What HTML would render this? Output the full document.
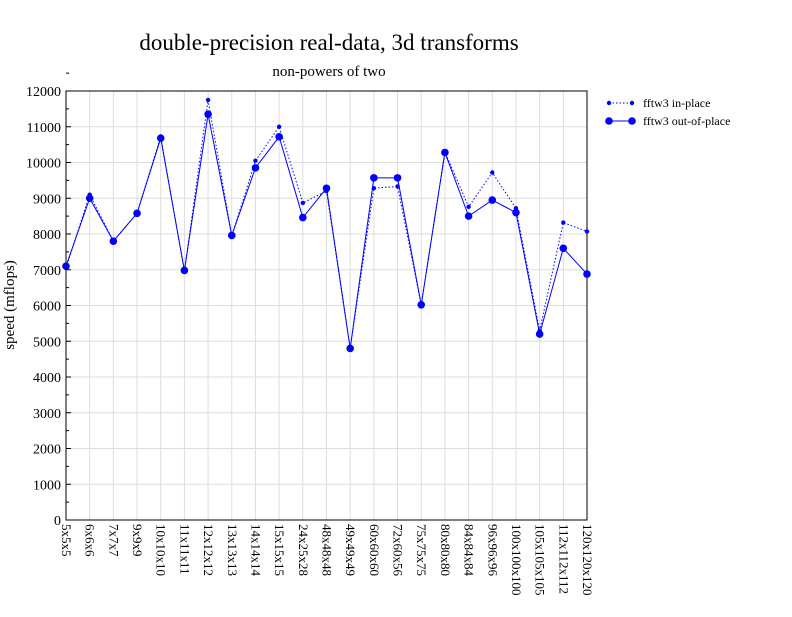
<!DOCTYPE html>
<html><head><meta charset="utf-8"><style>
body{margin:0;background:#fff;}
svg text{font-family:"Liberation Serif",serif;fill:#000;}
</style></head><body>
<svg id="c" width="792" height="612" xmlns="http://www.w3.org/2000/svg">
<text x="329" y="50" font-size="23" text-anchor="middle">double-precision real-data, 3d transforms</text>
<text x="329" y="76" font-size="15" text-anchor="middle">non-powers of two</text>
<text transform="translate(14,305) rotate(-90)" font-size="15" text-anchor="middle">speed (mflops)</text>
<g id="grid"></g><g id="axes"></g><g id="series"></g>
<g>
<line x1="609" y1="103" x2="632" y2="103" stroke="#0000ff" stroke-dasharray="1.5,2"/>
<circle cx="609" cy="103" r="2.2" fill="#0000ff"/><circle cx="632" cy="103" r="2.2" fill="#0000ff"/>
<text x="643" y="107" font-size="12">fftw3 in-place</text>
<line x1="609" y1="121" x2="632" y2="121" stroke="#0000ff"/>
<circle cx="609" cy="121" r="3.8" fill="#0000ff"/><circle cx="632" cy="121" r="3.8" fill="#0000ff"/>
<text x="643" y="125" font-size="12">fftw3 out-of-place</text>
</g>
</svg>
<script>
const categories=["5x5x5","6x6x6","7x7x7","9x9x9","10x10x10","11x11x11","12x12x12","13x13x13","14x14x14","15x15x15","24x25x28","48x48x48","49x49x49","60x60x60","72x60x56","75x75x75","80x80x80","84x84x84","96x96x96","100x100x100","105x105x105","112x112x112","120x120x120"];
const inPlace=[7050,9100,7800,8580,10730,6950,11750,7950,10050,11000,8870,9200,4800,9280,9330,6020,10300,8760,9720,8720,5300,8320,8070];
const outPlace=[7100,9000,7800,8580,10680,6980,11350,7960,9850,10720,8460,9280,4800,9570,9570,6020,10280,8500,8950,8600,5200,7600,6880];
const yTicks=[0,1000,2000,3000,4000,5000,6000,7000,8000,9000,10000,11000,12000];
const X0=66,X1=587,Y0=520,Y1=91,YMAX=12000;
const xs=i=>X0+(X1-X0)*i/(categories.length-1);
const ys=v=>Y0-(Y0-Y1)*v/YMAX;
const NS="http://www.w3.org/2000/svg";
function mk(t,a,p){const e=document.createElementNS(NS,t);for(const k in a)e.setAttribute(k,a[k]);p.appendChild(e);return e;}
const grid=document.getElementById('grid'),axes=document.getElementById('axes'),ser=document.getElementById('series');
categories.forEach((c,i)=>{
 const l=mk('line',{x1:xs(i),x2:xs(i),y1:Y1,y2:Y0,stroke:'#dddddd'},grid);
 
 
 const t=mk('text',{transform:`translate(${xs(i)-4},${Y0+4}) rotate(90)`,'font-size':13},axes);
 t.textContent=c;
 
 
});
yTicks.forEach(v=>{
 const l=mk('line',{x1:X0,x2:X1,y1:ys(v),y2:ys(v),stroke:'#dddddd'},grid);
 
 
 mk('line',{x1:X0,x2:X0+5,y1:ys(v),y2:ys(v),stroke:'#000'},axes);
 mk('line',{x1:X0,x2:X0+3,y1:ys(v+500),y2:ys(v+500),stroke:'#000'},axes);
 const t=mk('text',{x:X0-5,y:ys(v)+5,'font-size':14,'text-anchor':'end'},axes);
 t.textContent=v;
 
 
});
const fr=mk('rect',{x:X0,y:Y1,width:X1-X0,height:Y0-Y1,fill:'none',stroke:'#000'},axes);


function draw(vals,name,dash,r){
 const p=mk('polyline',{points:vals.map((v,i)=>xs(i)+','+ys(v)).join(' '),fill:'none',stroke:'#0000ff','stroke-width':1},ser);
 if(dash)p.setAttribute('stroke-dasharray',dash);
 
 
 vals.forEach((v,i)=>{const c=mk('circle',{cx:xs(i),cy:ys(v),r:r,fill:'#0000ff'},ser);
 
 });
}
draw(inPlace,'in-place','1.5,2',2.2);
draw(outPlace,'out-of-place',null,3.8);
</script>
</body></html>
